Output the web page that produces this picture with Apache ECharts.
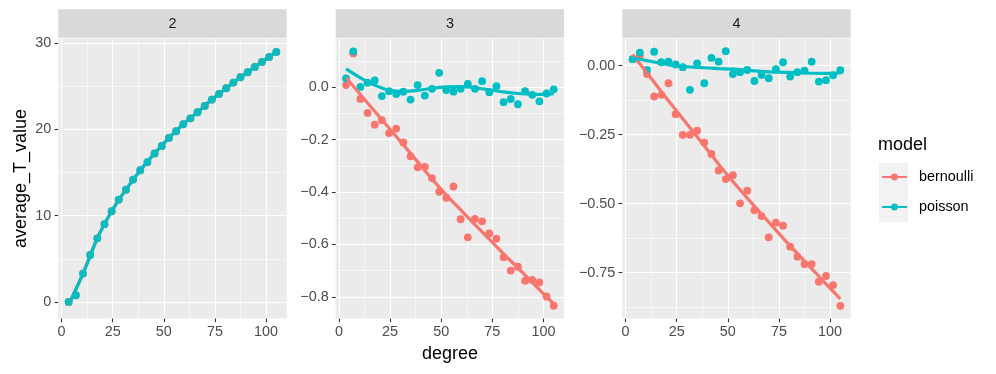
<!DOCTYPE html>
<html>
<head>
<meta charset="utf-8">
<title>average_T_value by degree</title>
<script src="https://cdn.jsdelivr.net/npm/echarts@6/dist/echarts.min.js"></script>
<style>
  html, body { margin: 0; padding: 0; background: #fff; }
  #chart { width: 996px; height: 374px; }
</style>
</head>
<body>
<div id="chart"></div>
<script>
// degree values shared by every facet
var degree = [3.5, 7, 10.5, 14, 17.5, 21, 24.5, 28, 31.5, 35, 38.5, 42, 45.5, 49, 52.5,
              56, 59.5, 63, 66.5, 70, 73.5, 77, 80.5, 84, 87.5, 91, 94.5, 98, 101.5, 105];
// x positions where the smooth curves were read
var fitDegree = [3.5, 10.5, 17.5, 24.5, 31.5, 38.5, 45.5, 52.5, 59.5, 66.5, 73.5, 80.5, 87.5, 94.5, 101.5, 105];

// facet "2"
var bernoulli2 = [0, 0.77, 3.28, 5.44, 7.37, 9.0, 10.5, 11.85, 13.0, 14.17, 15.25, 16.2, 17.2, 18.07, 19.0,
                  19.77, 20.58, 21.27, 21.97, 22.7, 23.44, 24.09, 24.75, 25.4, 26.02, 26.6, 27.22, 27.8, 28.38, 28.96];
var poisson2 = [0, 0.77, 3.28, 5.44, 7.37, 9.0, 10.5, 11.85, 13.0, 14.17, 15.25, 16.2, 17.2, 18.07, 19.0,
                19.77, 20.58, 21.27, 21.97, 22.7, 23.44, 24.09, 24.75, 25.4, 26.02, 26.6, 27.22, 27.8, 28.38, 28.96];
var bernoulliFit2 = [-0.3, 3.28, 7.37, 10.5, 13.0, 15.25, 17.2, 19.0, 20.58, 21.97, 23.44, 24.75, 26.02, 27.22, 28.38, 28.96];
var poissonFit2 = [-0.3, 3.28, 7.37, 10.5, 13.0, 15.25, 17.2, 19.0, 20.58, 21.97, 23.44, 24.75, 26.02, 27.22, 28.38, 28.96];

// facet "3"
var bernoulli3 = [0.008, 0.129, -0.045, -0.098, -0.143, -0.126, -0.175, -0.158, -0.211, -0.264, -0.306, -0.304, -0.347, -0.399, -0.422,
                  -0.379, -0.504, -0.573, -0.503, -0.512, -0.558, -0.578, -0.649, -0.700, -0.685, -0.739, -0.736, -0.745, -0.799, -0.834];
var poisson3 = [0.034, 0.137, 0.001, 0.017, 0.026, -0.034, -0.015, -0.026, -0.017, -0.047, 0.008, -0.032, -0.006, 0.055, -0.011,
                -0.017, -0.006, 0.013, -0.006, 0.023, -0.019, 0.004, -0.057, -0.045, -0.065, -0.015, -0.029, -0.054, -0.024, -0.008];
var bernoulliFit3 = [0.036, -0.028, -0.092, -0.156, -0.22, -0.285, -0.35, -0.412, -0.468, -0.525, -0.58, -0.636, -0.69, -0.745, -0.8, -0.827];
var poissonFit3 = [0.070, 0.036, 0.008, -0.011, -0.016, -0.012, -0.004, 0.001, 0.002, -0.002, -0.01, -0.018, -0.024, -0.027, -0.027, -0.025];

// facet "4"
var bernoulli4 = [0.023, 0.035, -0.031, -0.112, -0.106, -0.064, -0.176, -0.251, -0.251, -0.236, -0.279, -0.320, -0.380, -0.411, -0.397,
                  -0.499, -0.453, -0.524, -0.545, -0.622, -0.569, -0.580, -0.656, -0.692, -0.719, -0.719, -0.783, -0.762, -0.795, -0.870];
var poisson4 = [0.023, 0.047, -0.016, 0.050, 0.012, 0.014, 0.004, -0.006, -0.088, 0.008, -0.064, 0.028, 0.014, 0.052, -0.031,
                -0.024, -0.016, -0.056, -0.034, -0.046, -0.013, 0.012, -0.040, -0.024, -0.018, 0.014, -0.058, -0.053, -0.035, -0.017];
var bernoulliFit4 = [0.04, -0.027, -0.094, -0.160, -0.225, -0.29, -0.357, -0.420, -0.48, -0.538, -0.596, -0.653, -0.708, -0.763, -0.818, -0.845];
var poissonFit4 = [0.027, 0.018, 0.008, -0.001, -0.005, -0.008, -0.011, -0.013, -0.017, -0.021, -0.024, -0.025, -0.027, -0.028, -0.028, -0.027];

// tick labels
var facetNames = ['2', '3', '4'];
var xTicks = [0, 25, 50, 75, 100];
var xMinor = [12.5, 37.5, 62.5, 87.5];
var yTicks2 = [0, 10, 20, 30];
var yMinor2 = [5, 15, 25];
var yTicks3 = [-0.8, -0.6, -0.4, -0.2, 0];
var yMinor3 = [-0.7, -0.5, -0.3, -0.1, 0.1];
var yTicks4 = [-0.75, -0.5, -0.25, 0];
var yMinor4 = [-0.875, -0.625, -0.375, -0.125];

var colBern = '#F8766D';
var colPois = '#00BFC4';
var font = "'Liberation Sans', Arial, Helvetica, sans-serif";

// layout of the three panels
var panelLeft = [58.3, 335.7, 622.3];
var panelWidth = 228.4;
var panelTop = 38.5;
var panelHeight = 280;
var xRange = [-1.575, 110.075];

var panels = [
    { bern: bernoulli2, pois: poisson2, bernFit: bernoulliFit2, poisFit: poissonFit2,
      yMin: -1.92, yMax: 30.51, ticks: yTicks2, minor: yMinor2, digits: 0 },
    { bern: bernoulli3, pois: poisson3, bernFit: bernoulliFit3, poisFit: poissonFit3,
      yMin: -0.883, yMax: 0.186, ticks: yTicks3, minor: yMinor3, digits: 1 },
    { bern: bernoulli4, pois: poisson4, bernFit: bernoulliFit4, poisFit: poissonFit4,
      yMin: -0.916, yMax: 0.098, ticks: yTicks4, minor: yMinor4, digits: 2 }
];

function pairs(xs, ys) {
    var out = [];
    for (var i = 0; i < xs.length; i++) out.push([xs[i], ys[i]]);
    return out;
}

function fmt(v, digits) {
    var s = Number(v).toFixed(digits);
    if (Number(s) === 0) s = (0).toFixed(digits);
    return s.replace('-', '\u2212');
}

var grids = [], xAxes = [], yAxes = [], series = [], graphics = [];
var majorLine = { color: '#ffffff', width: 1.1 };
var minorLine = { color: '#ffffff', width: 0.55 };
var tickStyle = { color: '#333333', width: 1.1 };

// major axes (index 0..2)
panels.forEach(function (p, i) {
    grids.push({
        left: panelLeft[i], top: panelTop, width: panelWidth, height: panelHeight,
        show: true, backgroundColor: '#EBEBEB', borderWidth: 0
    });
    xAxes.push({
        type: 'value', gridIndex: i, min: xRange[0], max: xRange[1],
        name: i === 1 ? 'degree' : '', nameLocation: 'middle', nameGap: 27,
        nameTextStyle: { color: '#000', fontSize: 18, fontFamily: font },
        axisLine: { show: false, onZero: false },
        axisTick: { show: true, length: 3.7, lineStyle: tickStyle, customValues: xTicks },
        axisLabel: { customValues: xTicks, color: '#4D4D4D', fontSize: 14.4, fontFamily: font, margin: 7 },
        splitLine: { show: true, lineStyle: majorLine }
    });
    yAxes.push({
        type: 'value', gridIndex: i, min: p.yMin, max: p.yMax,
        name: i === 0 ? 'average_T_value' : '', nameLocation: 'middle', nameGap: 28,
        nameTextStyle: { color: '#000', fontSize: 18, fontFamily: font },
        axisLine: { show: false, onZero: false },
        axisTick: { show: true, length: 3.7, lineStyle: tickStyle, customValues: p.ticks },
        axisLabel: {
            customValues: p.ticks, color: '#4D4D4D', fontSize: 14.4, fontFamily: font, margin: 7,
            formatter: (function (d) { return function (v) { return fmt(v, d); }; })(p.digits)
        },
        splitLine: { show: true, lineStyle: majorLine }
    });
});

// minor grid axes (index 3..5)
panels.forEach(function (p, i) {
    xAxes.push({
        type: 'value', gridIndex: i, position: 'top', min: xRange[0], max: xRange[1],
        axisLine: { show: false, onZero: false },
        axisTick: { show: false, customValues: xMinor },
        axisLabel: { show: false, customValues: xMinor },
        splitLine: { show: true, lineStyle: minorLine }
    });
    yAxes.push({
        type: 'value', gridIndex: i, position: 'right', min: p.yMin, max: p.yMax,
        axisLine: { show: false, onZero: false },
        axisTick: { show: false, customValues: p.minor },
        axisLabel: { show: false, customValues: p.minor },
        splitLine: { show: true, lineStyle: minorLine }
    });
});

// smooth lines first (for legend icons), drawn above the points through z
panels.forEach(function (p, i) {
    series.push({
        name: 'bernoulli', type: 'line', xAxisIndex: i, yAxisIndex: i, z: 4,
        data: pairs(fitDegree, p.bernFit), symbol: 'none', smooth: 0.3,
        lineStyle: { color: colBern, width: 3.2 }, itemStyle: { color: colBern }
    });
    series.push({
        name: 'poisson', type: 'line', xAxisIndex: i, yAxisIndex: i, z: 5,
        data: pairs(fitDegree, p.poisFit), symbol: 'none', smooth: 0.3,
        lineStyle: { color: colPois, width: 3.2 }, itemStyle: { color: colPois }
    });
});
panels.forEach(function (p, i) {
    series.push({
        name: 'bernoulli', type: 'scatter', xAxisIndex: i, yAxisIndex: i, z: 2,
        data: pairs(degree, p.bern), symbolSize: 7.8, itemStyle: { color: colBern, opacity: 1 }
    });
    series.push({
        name: 'poisson', type: 'scatter', xAxisIndex: i, yAxisIndex: i, z: 3,
        data: pairs(degree, p.pois), symbolSize: 7.8, itemStyle: { color: colPois, opacity: 1 }
    });
});

// facet strips
facetNames.forEach(function (name, i) {
    graphics.push({
        type: 'rect', left: panelLeft[i], top: 9.3, silent: true,
        shape: { width: panelWidth, height: 28.4 }, style: { fill: '#D9D9D9' }
    });
    graphics.push({
        type: 'text', x: panelLeft[i] + panelWidth / 2, y: 24, silent: true,
        style: { text: name, fill: '#1A1A1A', font: '14.4px ' + font, align: 'center', verticalAlign: 'middle' }
    });
});
// legend key background
graphics.push({
    type: 'rect', left: 879, top: 162.7, silent: true, z: -1,
    shape: { width: 29.3, height: 59 }, style: { fill: '#F2F2F2' }
});

var legendBase = {
    orient: 'vertical', left: 881, padding: 0, selectedMode: false,
    itemWidth: 25, itemHeight: 8.6,
    textStyle: { color: '#000', fontSize: 14.4, fontFamily: font, padding: [0, 0, 0, 7] }
};

var chart = echarts.init(document.getElementById('chart'), null, { renderer: 'canvas' });
chart.setOption({
    animation: false,
    backgroundColor: '#ffffff',
    title: {
        text: 'model', left: 878, top: 136, padding: 0,
        textStyle: { color: '#000', fontSize: 18, fontWeight: 'normal', fontFamily: font }
    },
    legend: [
        Object.assign({}, legendBase, { data: ['bernoulli'], top: 170 }),
        Object.assign({}, legendBase, { data: ['poisson'], top: 200 })
    ],
    grid: grids,
    xAxis: xAxes,
    yAxis: yAxes,
    series: series,
    graphic: graphics
});
</script>
</body>
</html>
